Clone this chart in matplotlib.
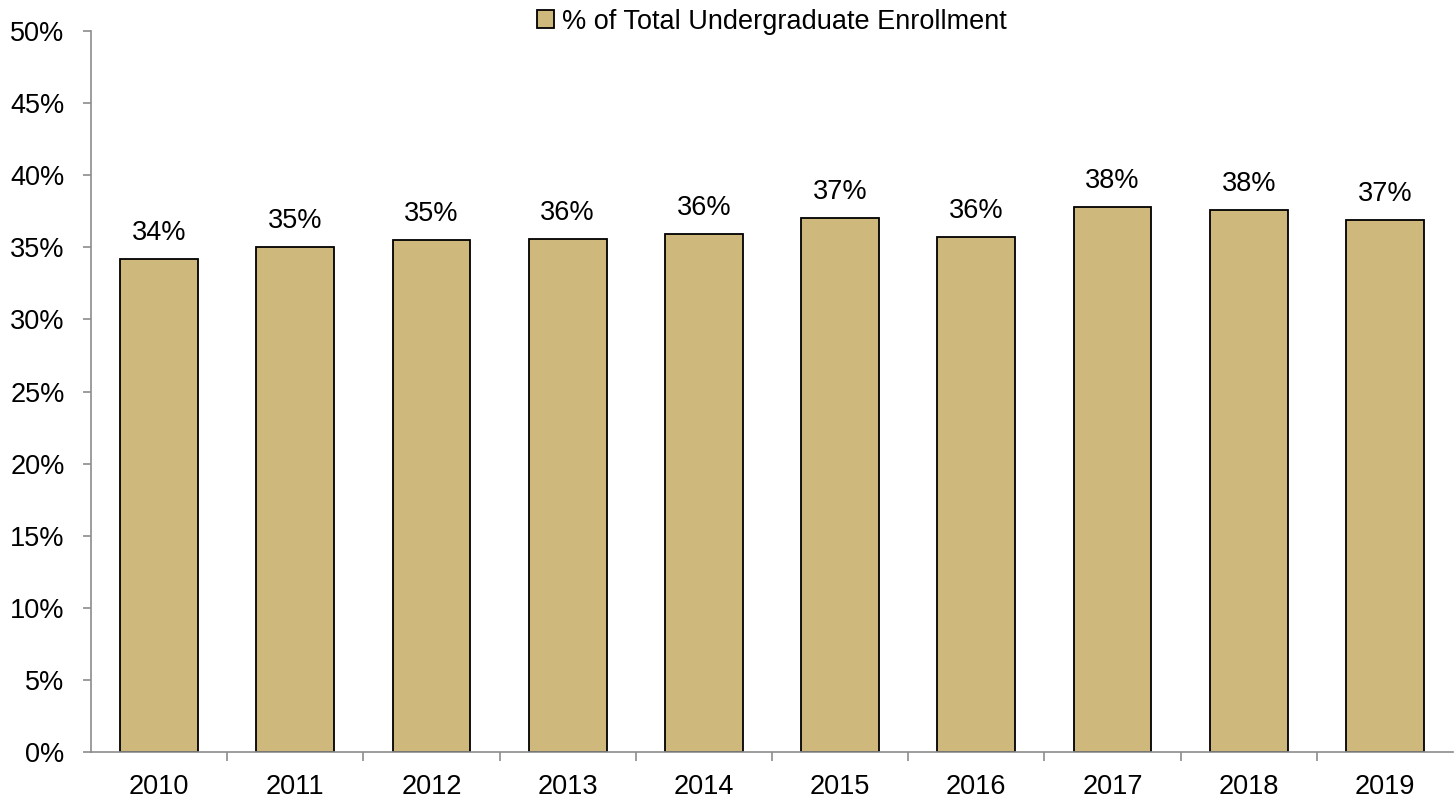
import numpy as np
import matplotlib.pyplot as plt

plt.rcParams['font.family'] = ['Liberation Sans', 'DejaVu Sans']

years = ['2010', '2011', '2012', '2013', '2014', '2015', '2016', '2017', '2018', '2019']
share = [34.2, 35.0, 35.5, 35.6, 35.9, 37.0, 35.7, 37.8, 37.6, 36.9]
labels = ['34%', '35%', '35%', '36%', '36%', '37%', '36%', '38%', '38%', '37%']

fig = plt.figure(figsize=(14.55, 8.06), dpi=100)
ax = fig.add_axes([91 / 1455, 54 / 806, 1362 / 1455, 721 / 806])

fs = 19.5
x = np.arange(len(years))
bars = ax.bar(x, share, width=0.57, color='#CFB87C', edgecolor='black', linewidth=1.3,
              label='% of Total Undergraduate Enrollment', zorder=2)
for b, t in zip(bars, labels):
    ax.text(b.get_x() + b.get_width() / 2, b.get_height() + 0.9, t,
            ha='center', va='bottom', fontsize=fs)

ax.set_xlim(-0.5, len(years) - 0.5)
ax.set_ylim(0, 50)
ax.set_yticks(np.arange(0, 51, 5))
ax.set_yticklabels([f'{v}%' for v in range(0, 51, 5)])
ax.set_xticks(x)
ax.set_xticklabels(years)
ax.set_xticks(np.arange(0.5, len(years) - 1, 1), minor=True)
ax.tick_params(axis='x', which='major', length=0, pad=16, labelsize=fs)
ax.tick_params(axis='x', which='minor', length=6.5, width=1.2, color='#8c8c8c', direction='out')
ax.tick_params(axis='y', length=6, width=1.2, color='#8c8c8c', direction='out', pad=13, labelsize=fs)

for s in ['top', 'right']:
    ax.spines[s].set_visible(False)
for s in ['left', 'bottom']:
    ax.spines[s].set_color('#8c8c8c')
    ax.spines[s].set_linewidth(1.2)

ax.legend(loc='upper center', bbox_to_anchor=(0.5, 1.065), frameon=False, fontsize=fs,
          handlelength=0.6, handleheight=0.6, handletextpad=0.3)

fig.savefig('out.png', dpi=100)
